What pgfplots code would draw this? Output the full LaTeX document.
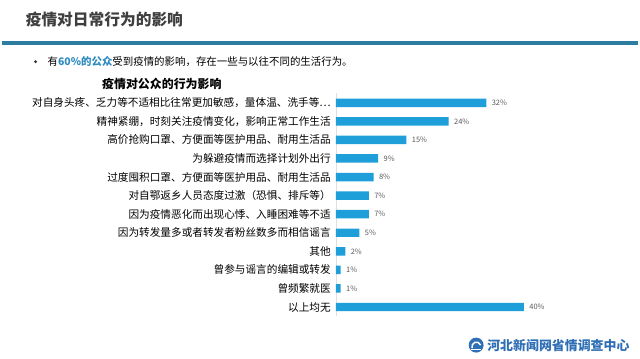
\documentclass[border=0pt]{standalone}
\usepackage{pgfplots}
\pgfplotsset{compat=1.18}
\usepackage{fontspec}
\setmainfont{Noto Sans CJK SC}
\definecolor{barblue}{HTML}{1E9FD9}
\definecolor{rule}{HTML}{2C7DA0}
\definecolor{titlegray}{HTML}{3F3F3F}
\definecolor{hl}{HTML}{2E8BC0}
\definecolor{foot}{HTML}{2F6FB5}
\begin{document}
\begin{tikzpicture}
\path[fill=white] (0pt,0pt) rectangle (640pt,-360pt);
\node[anchor=west,text=titlegray,inner sep=0pt] at (24pt,-20pt) {\fontsize{15.8}{18}\selectfont\bfseries 疫情对日常行为的影响};
\draw[line width=3.5pt,rule] (0pt,-43pt) -- (640pt,-43pt);
\fill[black!80] (34pt,-62pt) circle (1.6pt);
\node[anchor=west,inner sep=0pt] at (46pt,-62pt) {\fontsize{10.5}{12}\selectfont 有\textcolor{hl}{\bfseries 60\%的公众}受到疫情的影响，存在一些与以往不同的生活行为。};
\node[anchor=center,inner sep=0pt] at (161pt,-84pt) {\fontsize{12}{14}\selectfont\bfseries 疫情对公众的行为影响};
\begin{axis}[
  at={(336pt,-318pt)}, anchor=south west,
  scale only axis, width=189pt, height=224pt,
  xbar, bar width=8.5pt,
  xmin=0, xmax=40, ymin=-0.5, ymax=11.5,
  y dir=reverse,
  hide x axis,
  axis y line*=left,
  y axis line style={draw=gray!25},
  ytick={0,...,11},
  major tick length=0pt,
  yticklabel style={font=\fontsize{10.7}{12}\selectfont, text=black, inner sep=0pt, xshift=-5pt},
  yticklabels={对自身头疼、乏力等不适相比往常更加敏感，量体温、洗手等…,
    精神紧绷，时刻关注疫情变化，影响正常工作生活,
    高价抢购口罩、方便面等医护用品、耐用生活品,
    为躲避疫情而选择计划外出行,
    过度囤积口罩、方便面等医护用品、耐用生活品,
    对自鄂返乡人员态度过激（恐惧、排斥等）,
    因为疫情恶化而出现心悸、入睡困难等不适,
    因为转发量多或者转发者粉丝数多而相信谣言,
    其他,
    曾参与谣言的编辑或转发,
    曾频繁就医,
    以上均无},
  point meta=explicit symbolic,
  nodes near coords,
  nodes near coords style={font=\fontsize{7.5}{8}\selectfont, text=black!65, anchor=west, xshift=2pt},
  clip=false,
]
\addplot[fill=barblue, draw=none] table[meta=lab] {
x y lab
32 0 32\%
24 1 24\%
15 2 15\%
9 3 9\%
8 4 8\%
7 5 7\%
7 6 7\%
5 7 5\%
2 8 2\%
1 9 1\%
1 10 1\%
40 11 40\%
};
\end{axis}
\fill[foot] (477pt,-347pt) circle (7.5pt);
\draw[white, line width=1.5pt] (473pt,-350pt) arc (200:20:4.5pt);
\draw[white, line width=1.2pt] (472pt,-351pt) -- (482pt,-351pt);
\node[anchor=west,inner sep=0pt,text=foot] at (488pt,-347pt) {\fontsize{13}{15}\selectfont\bfseries 河北新闻网省情调查中心};
\end{tikzpicture}
\end{document}
